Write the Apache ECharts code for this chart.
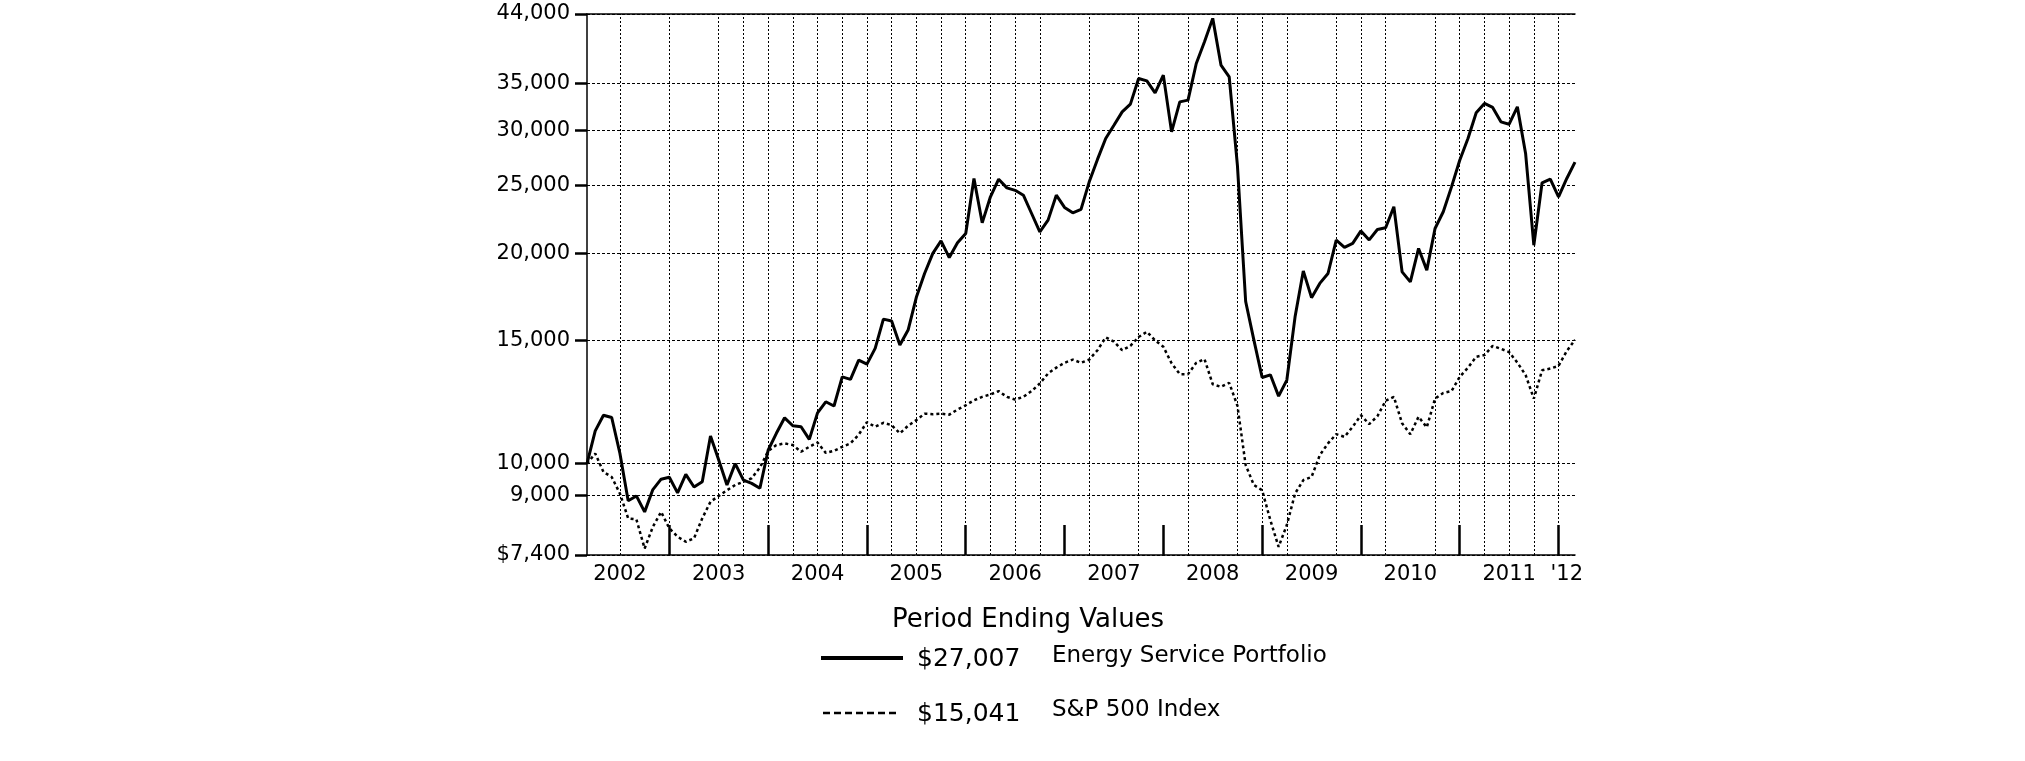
<!DOCTYPE html>
<html>
<head>
<meta charset="utf-8">
<script src="https://cdn.jsdelivr.net/npm/echarts@6/dist/echarts.min.js"></script>
<style>
html,body{margin:0;padding:0;background:#fff;}
#chart{width:2025px;height:761px;}
</style>
</head>
<body>
<div id="chart"></div>
<script>
// Monthly period-ending values, Feb 2002 .. Feb 2012
const energyService = [
  10000, 11140, 11730, 11640, 10340, 8850, 8990, 8530, 9180, 9500, 9560,
  9080, 9650, 9260, 9420, 10950, 10120, 9320, 10000, 9470, 9370, 9220, 10450,
  11050, 11630, 11330, 11290, 10830, 11820, 12260, 12090, 13310, 13200, 14060, 13880,
  14620, 16100, 16000, 14780, 15530, 17300, 18710, 19990, 20830, 19720, 20700, 21350,
  25590, 22110, 24090, 25530, 24810, 24610, 24220, 22800, 21460, 22310, 24220, 23260,
  22850, 23110, 25310, 27250, 29200, 30500, 31870, 32690, 35580, 35300, 33930, 35970,
  29840, 32940, 33130, 37380, 40150, 43370, 37180, 35770, 26700, 17060, 15020, 13280,
  13400, 12490, 13170, 16220, 18870, 17280, 18110, 18710, 20880, 20390, 20660, 21530,
  20900, 21630, 21750, 23310, 18810, 18200, 20320, 18920, 21700, 22930, 24890, 27180,
  29200, 31770, 32770, 32340, 30840, 30600, 32400, 27790, 20540, 25230, 25530, 24090,
  25590, 27007
];
const sp500 = [
  10000, 10340, 9730, 9570, 9060, 8350, 8320, 7560, 8120, 8530, 8080,
  7860, 7730, 7820, 8350, 8820, 8990, 9160, 9320, 9420, 9530, 9870, 10420,
  10630, 10690, 10630, 10400, 10570, 10720, 10360, 10430, 10570, 10690, 11000, 11460,
  11290, 11440, 11350, 11050, 11330, 11540, 11790, 11770, 11790, 11750, 11950, 12120,
  12320, 12460, 12560, 12700, 12460, 12350, 12460, 12700, 13020, 13460, 13720, 13940,
  14090, 13940, 14090, 14530, 15160, 14950, 14530, 14740, 15180, 15440, 15010, 14700,
  13920, 13430, 13430, 13940, 14110, 12990, 12880, 13050, 12100, 9950, 9320, 9160,
  8300, 7600, 8170, 9060, 9470, 9570, 10280, 10690, 11020, 10920, 11290, 11730,
  11390, 11690, 12300, 12460, 11420, 11020, 11670, 11270, 12390, 12620, 12700, 13310,
  13720, 14220, 14300, 14740, 14600, 14440, 13950, 13390, 12390, 13600, 13680, 13800,
  14490, 15041
];
const yTicks = [7400, 9000, 10000, 15000, 20000, 25000, 30000, 35000, 44000];
const yearLabelMonths = ['2002-06','2003-06','2004-06','2005-06','2006-06','2007-06','2008-06','2009-06','2010-06','2011-06','2012-01'];
const yearLabels = ['2002','2003','2004','2005','2006','2007','2008','2009','2010','2011',"'12"];
const yearEndMonths = ['2002-12','2003-12','2004-12','2005-12','2006-12','2007-12','2008-12','2009-12','2010-12','2011-12'];
const gridMonths = ['2002-06','2002-12','2003-06','2003-09','2003-12','2004-03','2004-06','2004-09','2004-12',
  '2005-03','2005-06','2005-09','2005-12','2006-03','2006-06','2006-09','2007-03','2007-09','2008-03','2008-09',
  '2008-12','2009-03','2009-09','2009-12','2010-03','2010-09','2010-12','2011-03','2011-06','2011-09','2011-12'];
const legendTitle = 'Period Ending Values';
const seriesNames = ['Energy Service Portfolio', 'S&P 500 Index'];
const endingValues = ['$27,007', '$15,041'];

// month categories
const months = [];
for (let k = 0; k < energyService.length; k++) {
  const m = 1 + k; // Feb 2002 = index 0
  const y = 2002 + Math.floor(m / 12);
  const mm = (m % 12) + 1;
  months.push(y + '-' + (mm < 10 ? '0' + mm : '' + mm));
}
const fmt = v => Math.round(v).toString().replace(/\B(?=(\d{3})+(?!\d))/g, ',');
const FONT = 'DejaVu Sans';

const chart = echarts.init(document.getElementById('chart'), null, {renderer: 'canvas'});
chart.setOption({
  animation: false,
  backgroundColor: '#fff',
  grid: {left: 587, top: 14, width: 988, height: 541, containLabel: false},
  xAxis: [{
    type: 'category',
    data: months,
    boundaryGap: false,
    axisLine: {show: true, lineStyle: {color: '#000', width: 1.5}},
    axisTick: {
      show: true, inside: true, length: 30,
      interval: (i, v) => yearEndMonths.indexOf(v) >= 0,
      lineStyle: {color: '#000', width: 2.5}
    },
    axisLabel: {
      show: true,
      interval: (i, v) => yearLabelMonths.indexOf(v) >= 0,
      formatter: (v) => { const j = yearLabelMonths.indexOf(v); return j >= 0 ? yearLabels[j] : ''; },
      color: '#000', fontFamily: FONT, fontSize: 21, margin: 9
    },
    splitLine: {show: false}
  }, {
    type: 'category',
    data: months,
    boundaryGap: false,
    position: 'top',
    axisLine: {show: true, lineStyle: {color: '#000', width: 1.5}},
    axisTick: {show: false},
    axisLabel: {show: false},
    splitLine: {show: false}
  }],
  yAxis: {
    type: 'log',
    logBase: 10,
    min: 7400,
    max: 44000,
    axisLine: {show: true, lineStyle: {color: '#000', width: 1.5}},
    axisTick: {show: true, inside: false, length: 12, customValues: yTicks, lineStyle: {color: '#000', width: 2.5}},
    axisLabel: {
      show: true, customValues: yTicks,
      formatter: v => (Math.round(v) === 7400 ? '$' : '') + fmt(v),
      color: '#000', fontFamily: FONT, fontSize: 21, margin: 17
    },
    splitLine: {show: true, lineStyle: {color: '#000', width: 1, type: [3, 2]}}
  },
  series: [{
    name: seriesNames[0],
    type: 'line',
    data: energyService,
    showSymbol: false,
    symbol: 'none',
    lineStyle: {color: '#000', width: 3},
    z: 5
  }, {
    name: seriesNames[1],
    type: 'line',
    data: sp500,
    showSymbol: false,
    symbol: 'none',
    lineStyle: {color: '#000', width: 2.5, type: [3, 3]},
    z: 4,
    markLine: {
      silent: true,
      z: 1,
      animation: false,
      symbol: ['none', 'none'],
      label: {show: false},
      emphasis: {disabled: true},
      lineStyle: {color: '#000', width: 1, type: [2, 2]},
      data: gridMonths.map(m => ({xAxis: m}))
    }
  }],
  graphic: [
    {type: 'text', x: 892, y: 620, style: {text: legendTitle, fontFamily: FONT, fontSize: 26, fill: '#000', align: 'left', verticalAlign: 'middle'}},
    {type: 'line', shape: {x1: 821, y1: 658, x2: 903, y2: 658}, style: {stroke: '#000', lineWidth: 4}},
    {type: 'text', x: 917, y: 659, style: {text: endingValues[0], fontFamily: FONT, fontSize: 25, fill: '#000', align: 'left', verticalAlign: 'middle'}},
    {type: 'text', x: 1052, y: 656, style: {text: seriesNames[0], fontFamily: FONT, fontSize: 23, fill: '#000', align: 'left', verticalAlign: 'middle'}},
    {type: 'line', shape: {x1: 823, y1: 713, x2: 897, y2: 713}, style: {stroke: '#000', lineWidth: 2.5, lineDash: [7, 4]}},
    {type: 'text', x: 917, y: 714, style: {text: endingValues[1], fontFamily: FONT, fontSize: 25, fill: '#000', align: 'left', verticalAlign: 'middle'}},
    {type: 'text', x: 1052, y: 710, style: {text: seriesNames[1], fontFamily: FONT, fontSize: 23, fill: '#000', align: 'left', verticalAlign: 'middle'}}
  ]
});
</script>
</body>
</html>
